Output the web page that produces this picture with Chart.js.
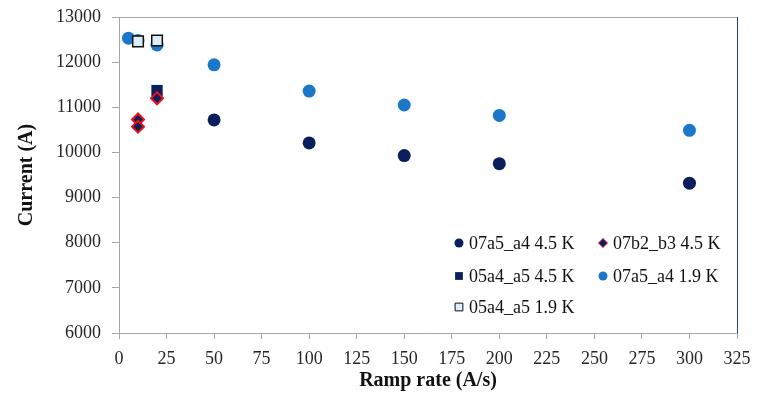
<!DOCTYPE html>
<html>
<head>
<meta charset="utf-8">
<script src="https://cdn.jsdelivr.net/npm/chart.js@4.4.0/dist/chart.umd.min.js"></script>
<style>
  html, body { margin: 0; padding: 0; background: #fff; }
  canvas { display: block; }
</style>
</head>
<body>
<canvas id="rampChart" width="760" height="393"></canvas>
<script>
// Ramp rate (A/s) vs quench current (A)
const rateA4Warm = [50, 100, 150, 200, 300];
const curA4Warm = [10720, 10210, 9930, 9750, 9320];

const rateB3Warm = [10, 10, 20];
const curB3Warm = [10730, 10570, 11200];

const rateA5Warm = [20];
const curA5Warm = [11370];

const rateA4Cold = [5, 10, 20, 50, 100, 150, 200, 300];
const curA4Cold = [12530, 12480, 12380, 11940, 11360, 11050, 10820, 10490];

const rateA5Cold = [10, 20];
const curA5Cold = [12460, 12480];

const xTicks = [0, 25, 50, 75, 100, 125, 150, 175, 200, 225, 250, 275, 300, 325];
const yTicks = [6000, 7000, 8000, 9000, 10000, 11000, 12000, 13000];

const toPoints = (xs, ys) => xs.map((x, i) => ({ x: x, y: ys[i] }));

const navy = '#0A1F5C';
const lightBlue = '#1B78C8';
const axisGrey = '#A6A6A6';
const serif = "'Liberation Serif', 'Times New Roman', serif";

// Legend drawn inside the plot, two columns like the original
const legendSlots = [
    { x: 459, y: 243 }, { x: 603, y: 243 },
    { x: 459, y: 276 }, { x: 603, y: 276 },
    { x: 459, y: 307 }
];

const boxLegend = {
    id: 'boxLegend',
    afterDraw(chart) {
        const ctx = chart.ctx;
        ctx.save();
        chart.data.datasets.forEach((ds, i) => {
            const slot = legendSlots[i];
            ctx.fillStyle = ds.backgroundColor;
            ctx.strokeStyle = ds.borderColor;
            Chart.helpers.drawPoint(ctx, {
                pointStyle: ds.pointStyle,
                radius: ds.legendRadius,
                rotation: 0,
                borderWidth: ds.borderWidth
            }, slot.x, slot.y);
            ctx.fillStyle = '#111';
            ctx.font = '18px ' + serif;
            ctx.textBaseline = 'middle';
            ctx.textAlign = 'left';
            ctx.fillText(ds.label, slot.x + 10, slot.y + 1);
        });
        ctx.restore();
    }
};

// Top and right frame lines of the plot area
const frameLines = {
    id: 'frameLines',
    beforeDatasetsDraw(chart) {
        const { ctx, chartArea } = chart;
        ctx.save();
        ctx.lineWidth = 1;
        ctx.strokeStyle = axisGrey;
        ctx.beginPath();
        ctx.moveTo(chartArea.left, chartArea.top + 0.5);
        ctx.lineTo(chartArea.right, chartArea.top + 0.5);
        ctx.stroke();
        ctx.strokeStyle = '#2B3F7E';
        ctx.beginPath();
        ctx.moveTo(chartArea.right + 0.5, chartArea.top);
        ctx.lineTo(chartArea.right + 0.5, chartArea.bottom);
        ctx.stroke();
        ctx.restore();
    }
};

new Chart(document.getElementById('rampChart').getContext('2d'), {
    type: 'scatter',
    data: {
        datasets: [
            {
                label: '07a5_a4 4.5 K',
                data: toPoints(rateA4Warm, curA4Warm),
                pointStyle: 'circle',
                pointRadius: 6.5,
                backgroundColor: navy,
                borderColor: navy,
                borderWidth: 0,
                legendRadius: 4.5,
                order: 4
            },
            {
                label: '07b2_b3 4.5 K',
                data: toPoints(rateB3Warm, curB3Warm),
                pointStyle: 'rectRot',
                pointRadius: 6,
                backgroundColor: navy,
                borderColor: '#E8121C',
                borderWidth: 2,
                legendRadius: 4.5,
                order: 1
            },
            {
                label: '05a4_a5 4.5 K',
                data: toPoints(rateA5Warm, curA5Warm),
                pointStyle: 'rect',
                pointRadius: 8,
                backgroundColor: navy,
                borderColor: navy,
                borderWidth: 0,
                legendRadius: 5.5,
                order: 2
            },
            {
                label: '07a5_a4 1.9 K',
                data: toPoints(rateA4Cold, curA4Cold),
                pointStyle: 'circle',
                pointRadius: 6.5,
                backgroundColor: lightBlue,
                borderColor: lightBlue,
                borderWidth: 0,
                legendRadius: 4.5,
                order: 3
            },
            {
                label: '05a4_a5 1.9 K',
                data: toPoints(rateA5Cold, curA5Cold),
                pointStyle: 'rect',
                pointRadius: 7.5,
                backgroundColor: '#DCEEFC',
                borderColor: '#111',
                borderWidth: 1.5,
                legendRadius: 5.5,
                order: 0
            }
        ]
    },
    options: {
        responsive: false,
        animation: false,
        devicePixelRatio: 1,
        layout: { padding: { top: 17, right: 23, bottom: 0, left: 0 } },
        plugins: {
            legend: { display: false },
            tooltip: { enabled: false }
        },
        scales: {
            x: {
                type: 'linear',
                min: xTicks[0],
                max: xTicks[xTicks.length - 1],
                afterBuildTicks: (axis) => { axis.ticks = xTicks.map(v => ({ value: v })); },
                afterFit: (axis) => {
                    axis.height = 60;
                    axis.paddingLeft = 0;
                    axis.paddingRight = 0;
                },
                border: { display: true, color: axisGrey, width: 1 },
                grid: { drawOnChartArea: false, drawTicks: true, tickLength: 6, color: axisGrey },
                ticks: {
                    color: '#262626',
                    padding: 9,
                    maxRotation: 0,
                    font: { family: serif, size: 18 },
                    callback: (v) => String(v)
                },
                title: {
                    display: true,
                    text: 'Ramp rate (A/s)',
                    color: '#111',
                    font: { family: serif, size: 20, weight: 'bold' },
                    padding: { top: 0, bottom: 0 }
                }
            },
            y: {
                type: 'linear',
                min: yTicks[0],
                max: yTicks[yTicks.length - 1],
                afterBuildTicks: (axis) => { axis.ticks = yTicks.map(v => ({ value: v })); },
                afterFit: (axis) => {
                    axis.width = 119;
                    axis.paddingTop = 0;
                    axis.paddingBottom = 0;
                },
                border: { display: true, color: axisGrey, width: 1 },
                grid: { drawOnChartArea: false, drawTicks: true, tickLength: 7, color: axisGrey },
                ticks: {
                    color: '#262626',
                    padding: 11,
                    font: { family: serif, size: 18 },
                    callback: (v) => String(v)
                },
                title: {
                    display: true,
                    text: 'Current (A)',
                    color: '#111',
                    font: { family: serif, size: 20, weight: 'bold' },
                    padding: { top: 15, bottom: 0 }
                }
            }
        }
    },
    plugins: [frameLines, boxLegend]
});
</script>
</body>
</html>
